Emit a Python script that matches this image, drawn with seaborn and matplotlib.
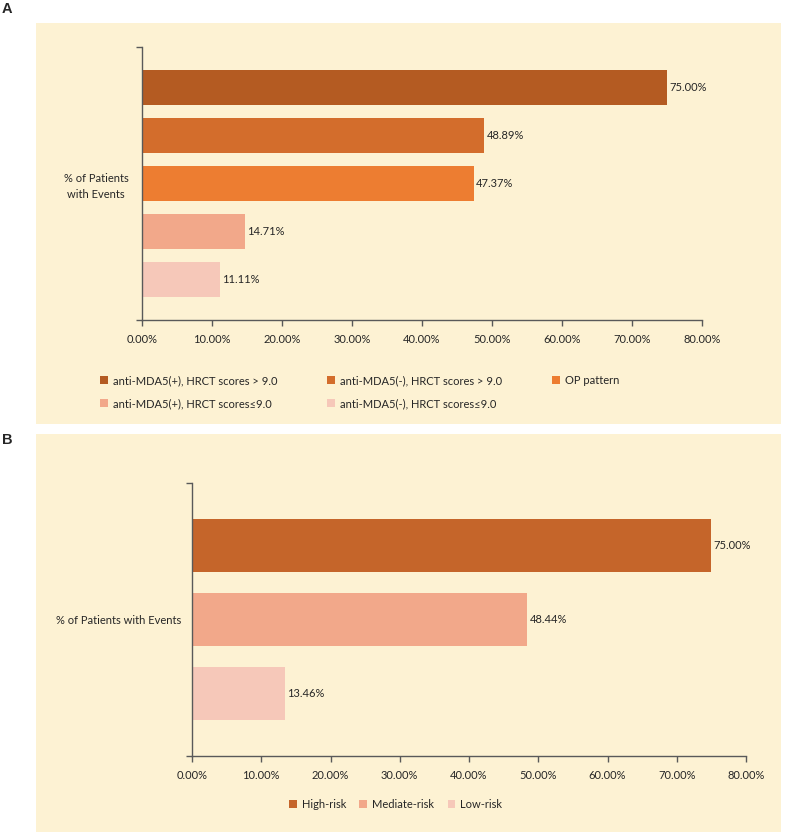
import matplotlib
matplotlib.use('Agg')
import matplotlib.pyplot as plt
import seaborn as sns
from matplotlib.patches import Rectangle
from matplotlib.ticker import FuncFormatter, FixedLocator

# panel A data
a_category = '% of Patients\nwith Events'
a_groups = ['anti-MDA5(+), HRCT scores > 9.0', 'anti-MDA5(-), HRCT scores > 9.0',
            'OP pattern', 'anti-MDA5(+), HRCT scores≤9.0', 'anti-MDA5(-), HRCT scores≤9.0']
a_values = [75.00, 48.89, 47.37, 14.71, 11.11]
a_colors = ['#B45B22', '#D36D2C', '#ED7D31', '#F2A88A', '#F6C8B9']

# panel B data
b_category = '% of Patients with Events'
b_groups = ['High-risk', 'Mediate-risk', 'Low-risk']
b_values = [75.00, 48.44, 13.46]
b_colors = ['#C5652A', '#F2A88A', '#F6C8B9']

x_ticks = [0, 10, 20, 30, 40, 50, 60, 70, 80]

sns.set_style('white')
plt.rcParams['font.family'] = ['Lato', 'DejaVu Sans']
txt = '#262626'
axis_col = '#595959'
bg = '#FDF2D3'

fig = plt.figure(figsize=(7.87, 8.36), dpi=100)
W, H = 787, 836

# panel backgrounds
fig.patches.append(Rectangle((36 / W, 1 - 424 / H), (781 - 36) / W, (424 - 23) / H,
                             transform=fig.transFigure, facecolor=bg, edgecolor='none', zorder=-5))
fig.patches.append(Rectangle((36 / W, 1 - 832 / H), (781 - 36) / W, (832 - 434) / H,
                             transform=fig.transFigure, facecolor=bg, edgecolor='none', zorder=-5))
fig.text(2 / W, 1 - 9 / H, 'A', fontsize=10.5, fontweight='bold', va='center', ha='left',
         family=['Liberation Sans'])
fig.text(2 / W, 1 - 440 / H, 'B', fontsize=10.5, fontweight='bold', va='center', ha='left',
         family=['Liberation Sans'])


def style_axis(ax, half):
    ax.set_facecolor('none')
    ax.set_xlim(0, 80)
    ax.set_ylim(half, -half)
    ax.xaxis.set_major_locator(FixedLocator(x_ticks))
    ax.xaxis.set_major_formatter(FuncFormatter(lambda v, p: f'{v:.2f}%'))
    for s in ['top', 'right']:
        ax.spines[s].set_visible(False)
    for s in ['left', 'bottom']:
        ax.spines[s].set_color(axis_col)
        ax.spines[s].set_linewidth(1.0)
    ax.tick_params(axis='x', direction='out', length=4, width=1, color=axis_col,
                   labelsize=8, labelcolor=txt, pad=6, bottom=True)
    ax.tick_params(axis='y', length=0, labelsize=8, labelcolor=txt)
    ax.yaxis.set_minor_locator(FixedLocator([-half, half]))
    ax.tick_params(axis='y', which='minor', direction='out', length=4, width=1,
                   color=axis_col, left=True)
    ax.set_xlabel('')
    ax.set_ylabel('')
    for c in ax.containers:
        ax.bar_label(c, fmt='%.2f%%', padding=1.5, fontsize=8, color=txt)


# panel A
ax1 = fig.add_axes([142 / W, 1 - 320 / H, (702 - 142) / W, (320 - 47) / H])
sns.barplot(x=a_values, y=[a_category] * len(a_values), hue=a_groups, hue_order=a_groups,
            palette=a_colors, saturation=1, orient='h', width=0.8, gap=0.29, linewidth=0, ax=ax1)
style_axis(ax1, 0.455)
for lab in ax1.get_yticklabels():
    lab.set_horizontalalignment('center')
    lab.set_linespacing(1.45)
ax1.tick_params(axis='y', pad=33)
h, l = ax1.get_legend_handles_labels()
order = [0, 3, 1, 4, 2]
ax1.legend([h[i] for i in order], [l[i] for i in order], ncol=3, frameon=False,
           loc='center left', bbox_to_anchor=(100 / W, 1 - 392 / H), bbox_transform=fig.transFigure,
           fontsize=8, handlelength=0.7, handleheight=0.7, handletextpad=0.45, borderpad=0,
           borderaxespad=0, columnspacing=4.5, labelspacing=1.05, labelcolor=txt)

# panel B
ax2 = fig.add_axes([192 / W, 1 - 756 / H, (746 - 192) / W, (756 - 483) / H])
sns.barplot(x=b_values, y=[b_category] * len(b_values), hue=b_groups, hue_order=b_groups,
            palette=b_colors, saturation=1, orient='h', width=0.8, gap=0.28, linewidth=0, ax=ax2)
style_axis(ax2, 0.492)
ax2.tick_params(axis='y', pad=8)
ax2.legend(ncol=3, frameon=False, loc='center left', bbox_to_anchor=(289 / W, 1 - 804 / H),
           bbox_transform=fig.transFigure, fontsize=8, handlelength=0.7, handleheight=0.7,
           handletextpad=0.45, borderpad=0, borderaxespad=0, columnspacing=1.2, labelcolor=txt)

fig.savefig('out.png', dpi=100, facecolor='white')
